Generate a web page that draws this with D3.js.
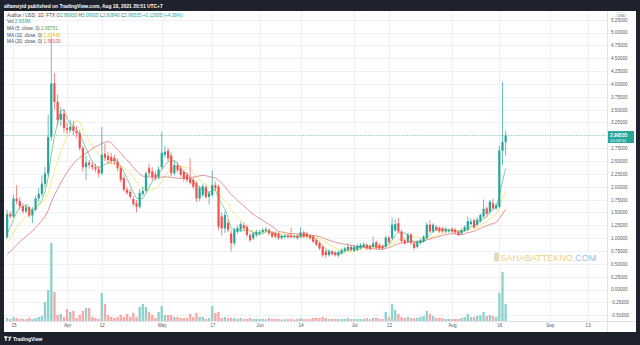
<!DOCTYPE html>
<html>
<head>
<meta charset="utf-8">
<script src="https://cdn.jsdelivr.net/npm/d3@7"></script>
<style>
  html, body { margin: 0; padding: 0; background: #1e222d; }
  svg { display: block; }
  text { font-family: "Liberation Sans", Arial, sans-serif; }
</style>
</head>
<body>
<svg id="chart" width="640" height="345"></svg>
<script>
// AUDIO / USD daily candles on FTX, 13 Mar 2021 – 18 Aug 2021
const startDate = "2021-03-13";

const opens = [
  1.02, 1.47, 1.42, 1.77, 1.72, 1.62, 1.52, 1.60, 1.44, 1.55,
  1.77, 1.86, 2.06, 2.26, 2.97, 4.01, 3.65, 3.30, 3.42, 3.14,
  3.10, 3.17, 3.08, 3.04, 2.75, 2.38, 2.47, 2.42, 2.38, 2.34,
  2.26, 2.64, 2.60, 2.58, 2.56, 2.49, 2.36, 2.17, 1.94, 1.90,
  1.76, 1.68, 1.61, 1.86, 1.92, 2.36, 2.30, 2.24, 2.19, 2.38,
  2.62, 2.70, 2.61, 2.26, 2.42, 2.36, 2.29, 2.23, 2.16, 2.13,
  2.07, 1.77, 1.84, 1.99, 1.80, 1.84, 2.03, 2.00, 1.42, 1.19,
  1.30, 1.09, 0.90, 1.12, 1.16, 1.25, 1.22, 1.06, 1.00, 1.06,
  1.09, 1.12, 1.14, 1.16, 1.11, 1.10, 1.09, 1.00, 1.02, 1.05,
  1.05, 1.02, 1.05, 1.02, 1.11, 1.09, 1.05, 1.03, 0.96, 0.90,
  0.83, 0.74, 0.67, 0.74, 0.72, 0.66, 0.70, 0.75, 0.77, 0.83,
  0.75, 0.77, 0.80, 0.83, 0.87, 0.85, 0.83, 0.92, 0.87, 0.85,
  0.83, 1.01, 1.00, 1.15, 1.29, 1.13, 0.96, 0.93, 1.07, 0.90,
  0.83, 0.90, 0.93, 1.00, 1.26, 1.13, 1.22, 1.20, 1.19, 1.13,
  1.13, 1.18, 1.16, 1.12, 1.09, 1.14, 1.16, 1.27, 1.35, 1.26,
  1.33, 1.42, 1.58, 1.51, 1.68, 1.58, 1.61, 2.70, 2.86930
];

const highs = [
  1.55, 1.52, 1.84, 2.03, 1.80, 1.68, 1.66, 1.63, 1.60, 1.82,
  1.98, 2.22, 2.39, 3.40, 4.90, 4.21, 3.80, 3.55, 3.50, 3.25,
  3.30, 3.28, 3.18, 3.10, 2.80, 2.60, 2.52, 2.48, 2.45, 2.40,
  3.16, 2.84, 2.68, 2.66, 2.62, 2.55, 2.40, 2.22, 2.00, 1.95,
  1.82, 1.74, 1.95, 2.00, 2.30, 2.45, 2.38, 2.30, 2.40, 3.07,
  2.80, 2.76, 2.66, 2.50, 2.48, 2.42, 2.34, 2.28, 2.55, 2.18,
  2.10, 2.02, 2.06, 2.04, 1.92, 2.32, 2.10, 2.04, 1.50, 1.52,
  1.36, 1.15, 1.20, 1.24, 1.32, 1.30, 1.26, 1.10, 1.12, 1.16,
  1.16, 1.20, 1.22, 1.19, 1.14, 1.13, 1.12, 1.07, 1.08, 1.08,
  1.21, 1.07, 1.08, 1.21, 1.14, 1.12, 1.08, 1.06, 0.99, 0.93,
  0.86, 0.77, 0.78, 0.77, 0.75, 0.76, 0.80, 0.83, 0.90, 0.86,
  0.86, 0.88, 0.90, 0.92, 0.90, 0.88, 1.03, 0.95, 0.90, 0.88,
  1.05, 1.04, 1.40, 1.37, 1.39, 1.16, 0.99, 1.10, 1.10, 0.93,
  0.96, 0.99, 1.06, 1.30, 1.35, 1.29, 1.25, 1.23, 1.22, 1.21,
  1.19, 1.21, 1.19, 1.15, 1.19, 1.25, 1.42, 1.38, 1.38, 1.41,
  1.48, 1.75, 1.62, 1.74, 1.77, 1.68, 2.80, 4.04, 3.09905
];

const lows = [
  0.98, 1.38, 1.40, 1.66, 1.56, 1.47, 1.48, 1.40, 1.29, 1.52,
  1.70, 1.80, 2.00, 2.20, 2.90, 3.50, 3.20, 3.18, 3.05, 3.02,
  3.05, 3.00, 2.95, 2.70, 2.30, 2.13, 2.35, 2.32, 2.28, 2.18,
  2.22, 2.50, 2.45, 2.44, 2.42, 2.30, 2.08, 1.90, 1.84, 1.76,
  1.62, 1.50, 1.58, 1.82, 1.90, 2.20, 2.12, 2.12, 2.15, 2.34,
  2.56, 2.50, 2.20, 2.22, 2.28, 2.18, 2.10, 2.08, 2.04, 1.95,
  1.70, 1.72, 1.80, 1.76, 1.65, 1.80, 1.92, 1.15, 1.05, 1.10,
  1.12, 0.74, 0.86, 1.08, 1.12, 1.15, 1.02, 0.92, 0.96, 1.02,
  1.05, 1.08, 1.10, 1.05, 1.00, 1.00, 0.97, 0.97, 0.99, 0.99,
  1.00, 0.99, 0.97, 1.00, 1.00, 1.00, 0.97, 0.90, 0.84, 0.77,
  0.63, 0.61, 0.64, 0.66, 0.64, 0.63, 0.68, 0.72, 0.75, 0.74,
  0.73, 0.75, 0.78, 0.81, 0.77, 0.76, 0.80, 0.78, 0.77, 0.77,
  0.81, 0.89, 0.97, 1.12, 1.10, 0.91, 0.87, 0.90, 0.87, 0.77,
  0.80, 0.88, 0.91, 0.98, 1.10, 1.10, 1.13, 1.10, 1.10, 1.10,
  1.10, 1.10, 1.08, 1.04, 1.06, 1.12, 1.14, 1.25, 1.19, 1.23,
  1.30, 1.40, 1.44, 1.48, 1.55, 1.55, 1.58, 2.42, 2.60840
];

const closes = [
  1.47, 1.42, 1.77, 1.72, 1.62, 1.52, 1.60, 1.44, 1.55, 1.77,
  1.86, 2.06, 2.26, 2.97, 4.01, 3.65, 3.30, 3.42, 3.14, 3.10,
  3.17, 3.08, 3.04, 2.75, 2.38, 2.47, 2.42, 2.38, 2.34, 2.26,
  2.62, 2.56, 2.52, 2.50, 2.49, 2.36, 2.13, 1.94, 1.88, 1.80,
  1.66, 1.61, 1.88, 1.92, 2.26, 2.26, 2.19, 2.19, 2.34, 2.66,
  2.68, 2.55, 2.26, 2.42, 2.32, 2.23, 2.16, 2.13, 2.07, 2.00,
  1.77, 1.97, 2.01, 1.80, 1.87, 2.03, 1.97, 1.22, 1.19, 1.45,
  1.16, 0.90, 1.16, 1.19, 1.27, 1.19, 1.06, 0.96, 1.09, 1.12,
  1.12, 1.16, 1.17, 1.09, 1.03, 1.03, 1.00, 1.04, 1.05, 1.02,
  1.02, 1.04, 1.00, 1.11, 1.03, 1.03, 1.00, 0.93, 0.87, 0.80,
  0.67, 0.67, 0.74, 0.69, 0.67, 0.73, 0.77, 0.80, 0.83, 0.77,
  0.83, 0.85, 0.87, 0.88, 0.80, 0.79, 0.90, 0.81, 0.80, 0.80,
  1.01, 0.92, 1.26, 1.27, 1.13, 0.94, 0.90, 1.07, 0.90, 0.81,
  0.93, 0.96, 1.03, 1.26, 1.13, 1.26, 1.16, 1.13, 1.13, 1.18,
  1.16, 1.13, 1.11, 1.06, 1.16, 1.22, 1.33, 1.32, 1.2072, 1.36,
  1.44805, 1.57, 1.47, 1.71, 1.58, 1.64, 2.7019, 2.86930, 2.99535
];

// Daily volume, millions
const volumes = [
  0.52, 0.35, 0.69, 0.52, 0.35, 0.38, 0.33, 0.55, 0.36, 0.52,
  0.71, 0.86, 3.28, 5.35, 13.46, 5.00, 1.04, 1.21, 0.69, 2.07,
  1.55, 1.73, 0.52, 1.04, 1.73, 2.24, 2.24, 0.69, 0.52, 0.35,
  4.83, 2.93, 1.04, 0.69, 0.52, 0.69, 1.04, 0.69, 1.21, 0.69,
  1.38, 0.69, 2.42, 2.93, 2.42, 1.55, 1.04, 0.52, 1.55, 2.59,
  1.04, 1.04, 1.04, 0.69, 0.69, 0.52, 0.52, 0.52, 1.21, 0.69,
  1.38, 0.69, 0.69, 0.35, 0.52, 2.59, 1.38, 1.55, 0.52, 0.69,
  0.52, 0.55, 0.50, 0.35, 0.52, 0.36, 0.34, 0.52, 0.35, 0.37,
  0.35, 0.38, 0.33, 0.52, 0.35, 0.34, 0.36, 0.26, 0.27, 0.35,
  0.36, 0.26, 0.35, 0.52, 0.35, 0.33, 0.36, 0.52, 0.55, 0.50,
  0.69, 0.52, 0.35, 0.36, 0.34, 0.35, 0.37, 0.35, 0.52, 0.35,
  0.34, 0.36, 0.35, 0.38, 0.52, 0.35, 0.52, 0.55, 0.35, 0.36,
  1.55, 0.69, 2.93, 1.90, 1.21, 0.69, 0.52, 0.69, 0.52, 0.50,
  0.52, 0.69, 0.86, 1.73, 1.21, 0.86, 0.52, 0.55, 0.50, 0.35,
  0.36, 0.34, 0.35, 0.37, 0.52, 0.69, 1.21, 0.69, 0.69, 0.86,
  1.04, 1.55, 0.86, 1.04, 0.86, 0.69, 4.83, 8.45, 2.933
];

// Closes of the 19 sessions before the first drawn candle, used to warm up the moving averages
const priorCloses = [
  0.40, 0.42, 0.44, 0.43, 0.45, 0.47, 0.46, 0.48, 0.50, 0.52,
  0.58, 0.65, 0.72, 0.80, 0.85, 0.90, 0.98, 1.05, 1.10
];

const priceTicks = [-0.5, -0.25, 0, 0.25, 0.5, 0.75, 1, 1.25, 1.5, 1.75, 2, 2.25,
  2.5, 2.75, 3, 3.25, 3.5, 3.75, 4, 4.25, 4.5, 4.75, 5, 5.25];
const timeTickDates = ["2021-03-15", "2021-04-01", "2021-04-12", "2021-05-01", "2021-05-17",
  "2021-06-01", "2021-06-14", "2021-07-01", "2021-07-12", "2021-08-01", "2021-08-16",
  "2021-09-01", "2021-09-13"];
const timeTickLabels = ["15", "Apr", "12", "May", "17", "Jun", "14", "Jul", "12", "Aug", "16", "Sep", "13"];

const maPeriods = [5, 10, 20];
const maColors = ["#5fb868", "#f5e15a", "#e06a6a"];
const maTextColors = ["#43a047", "#e0c400", "#ef5350"];

const UP = "#26a69a", DOWN = "#ef5350";
const UP_VOL = "#92d2cc", DOWN_VOL = "#f7a9a7";

// ---------------------------------------------------------------------------
const parse = d3.utcParse("%Y-%m-%d");
const t0 = parse(startDate);
const bars = closes.map((c, i) => ({
  date: d3.utcDay.offset(t0, i),
  o: opens[i], h: highs[i], l: lows[i], c: c, v: volumes[i]
}));

// simple moving averages on close
const allCloses = priorCloses.concat(closes);
const offset = priorCloses.length;
const maSeries = maPeriods.map(p => bars.map((b, i) => {
  const end = i + offset;
  const win = allCloses.slice(end - p + 1, end + 1);
  return { date: b.date, value: d3.mean(win) };
}));

const W = 640, H = 345;
const pane = { left: 4, right: 607, top: 11, bottom: 321 };
const frame = { left: 4, right: 636, top: 11, bottom: 332 };

const svg = d3.select("#chart");
svg.append("rect").attr("width", W).attr("height", H).attr("fill", "#1e222d");
svg.append("rect")
  .attr("x", frame.left).attr("y", frame.top)
  .attr("width", frame.right - frame.left).attr("height", frame.bottom - frame.top)
  .attr("fill", "#ffffff");

const x = d3.scaleUtc()
  .domain([parse("2021-03-12"), new Date(Date.UTC(2021, 8, 19, 3))])
  .range([pane.left, pane.right]);
const y = d3.scaleLinear().domain([0, 5]).range([289.5, 32.5]);
const yv = d3.scaleLinear().domain([0, 13.5]).range([pane.bottom, 242.8]);

// grid
const grid = svg.append("g").attr("stroke", "#eff1f6").attr("stroke-width", 1);
grid.selectAll("line.h").data(priceTicks).join("line").attr("class", "h")
  .attr("x1", pane.left).attr("x2", pane.right)
  .attr("y1", d => Math.round(y(d)) + 0.5).attr("y2", d => Math.round(y(d)) + 0.5);
grid.selectAll("line.v").data(timeTickDates.map(parse)).join("line").attr("class", "v")
  .attr("y1", pane.top).attr("y2", pane.bottom)
  .attr("x1", d => Math.round(x(d)) + 0.5).attr("x2", d => Math.round(x(d)) + 0.5);

// separators of the scales
svg.append("line").attr("x1", pane.right + 0.5).attr("x2", pane.right + 0.5)
  .attr("y1", frame.top).attr("y2", frame.bottom).attr("stroke", "#e0e3eb");
svg.append("line").attr("x1", frame.left).attr("x2", frame.right)
  .attr("y1", pane.bottom + 0.5).attr("y2", pane.bottom + 0.5).attr("stroke", "#e0e3eb");

svg.append("clipPath").attr("id", "paneClip").append("rect")
  .attr("x", pane.left).attr("y", pane.top)
  .attr("width", pane.right - pane.left).attr("height", pane.bottom - pane.top);
const plot = svg.append("g").attr("clip-path", "url(#paneClip)");

// watermark
const wm = plot.append("g").attr("opacity", 0.72);
wm.append("rect").attr("x", 494.5).attr("y", 253).attr("width", 4).attr("height", 8).attr("rx", 0.8)
  .attr("fill", "#e9cf7a").attr("stroke", "#b5b5b5").attr("stroke-width", 0.6);
const wmText = wm.append("text").attr("x", 500.5).attr("y", 261.3)
  .attr("font-size", 9).attr("font-family", "Open Sans, sans-serif").attr("font-weight", 400);
wmText.append("tspan").attr("fill", "#e3c14f").text("SAHABATTEKNO");
wmText.append("tspan").attr("fill", "#7fa6e6").text(".COM");
wm.append("path").attr("d", "M592.5,260 l3.2,-3.2 l1,1 l-3.2,3.2 z").attr("fill", "#b4c2d6");

// volume
const bw = 2.2;
plot.append("g").selectAll("rect").data(bars).join("rect")
  .attr("x", d => x(d.date) - bw / 2 - 0.1)
  .attr("width", bw + 0.2)
  .attr("y", d => yv(d.v))
  .attr("height", d => pane.bottom - yv(d.v))
  .attr("fill", d => d.c >= d.o ? UP_VOL : DOWN_VOL);

// moving averages
const line = d3.line().x(d => x(d.date)).y(d => y(d.value));
plot.append("g").selectAll("path").data(maSeries).join("path")
  .attr("d", line).attr("fill", "none")
  .attr("stroke", (d, i) => maColors[i]).attr("stroke-width", 0.8).attr("stroke-opacity", 0.9);

// candles
const candles = plot.append("g").selectAll("g").data(bars).join("g")
  .attr("fill", d => d.c >= d.o ? UP : DOWN)
  .attr("stroke", d => d.c >= d.o ? UP : DOWN);
candles.append("line")
  .attr("x1", d => x(d.date)).attr("x2", d => x(d.date))
  .attr("y1", d => y(d.h)).attr("y2", d => y(d.l))
  .attr("stroke-width", 0.7);
candles.append("rect")
  .attr("x", d => x(d.date) - bw / 2)
  .attr("width", bw)
  .attr("y", d => y(Math.max(d.o, d.c)))
  .attr("height", d => Math.max(0.8, Math.abs(y(d.o) - y(d.c))))
  .attr("stroke", "none");

// last price line
const last = bars[bars.length - 1];
const prev = bars[bars.length - 2];
plot.append("line").attr("x1", pane.left).attr("x2", pane.right)
  .attr("y1", y(last.c)).attr("y2", y(last.c))
  .attr("stroke", UP).attr("stroke-width", 0.7).attr("stroke-dasharray", "1,1.6").attr("opacity", 0.7);

// price scale
const yAxis = svg.append("g").attr("transform", `translate(${pane.right + 3},0)`)
  .call(d3.axisRight(y).tickValues(priceTicks).tickSize(0).tickPadding(1)
    .tickFormat(d => d3.format(".5f")(d).replace("\u2212", "-")));
yAxis.select(".domain").remove();
yAxis.selectAll("text").attr("font-size", 4.6).attr("fill", "#555a66")
  .attr("font-family", "Liberation Sans, Arial, sans-serif");

// currency badge
svg.append("rect").attr("x", 616).attr("y", 12.5).attr("width", 11).attr("height", 5.5).attr("rx", 1)
  .attr("fill", "#fff").attr("stroke", "#d1d4dc").attr("stroke-width", 0.5);
svg.append("text").attr("x", 621.5).attr("y", 16.6).attr("text-anchor", "middle")
  .attr("font-size", 3.8).attr("fill", "#555a66").text("USD");

// last price tag
const tagY = y(last.c);
svg.append("rect").attr("x", 608).attr("y", tagY - 4.5).attr("width", 26).attr("height", 12)
  .attr("fill", UP);
svg.append("text").attr("x", 610).attr("y", tagY + 1.6).attr("font-size", 4.8).attr("font-weight", "bold")
  .attr("fill", "#fff").text(last.c.toFixed(5));
svg.append("text").attr("x", 610).attr("y", tagY + 6.3).attr("font-size", 4.2)
  .attr("fill", "#fff").text("10:08:51");

// time scale
const xAxis = svg.append("g").attr("transform", `translate(0,${pane.bottom})`)
  .call(d3.axisBottom(x).tickValues(timeTickDates.map(parse)).tickSize(0).tickPadding(3)
    .tickFormat((d, i) => timeTickLabels[i]));
xAxis.select(".domain").remove();
xAxis.selectAll("text").attr("font-size", 4.6).attr("fill", "#555a66")
  .attr("font-family", "Liberation Sans, Arial, sans-serif");

// publication header
svg.append("text").attr("x", 4).attr("y", 7.8).attr("font-size", 4.9).attr("font-weight", "bold")
  .attr("fill", "#ffffff").text("alfamzyid published on TradingView.com, Aug 18, 2021 20:51 UTC+7");

// legend
const fmt = d3.format(".5f");
const chg = last.c - prev.c;
const legend = svg.append("g").attr("font-size", 4.7);
const l1 = legend.append("text").attr("x", 7).attr("y", 16.8).attr("fill", "#434651");
l1.append("tspan").text("Audius / USD, 1D, FTX  O");
l1.append("tspan").attr("fill", UP).text(fmt(last.o));
l1.append("tspan").text(" H");
l1.append("tspan").attr("fill", UP).text(fmt(last.h));
l1.append("tspan").text(" L");
l1.append("tspan").attr("fill", UP).text(fmt(last.l));
l1.append("tspan").text(" C");
l1.append("tspan").attr("fill", UP).text(fmt(last.c));
l1.append("tspan").attr("fill", UP)
  .text(` ${chg >= 0 ? "+" : ""}${fmt(chg)} (${chg >= 0 ? "+" : ""}${(chg / prev.c * 100).toFixed(2)}%)`);

const l2 = legend.append("text").attr("x", 7).attr("y", 23.4).attr("fill", "#434651");
l2.append("tspan").text("Vol ");
l2.append("tspan").attr("fill", UP).text(d3.format(".3f")(last.v) + "M");

maPeriods.forEach((p, k) => {
  const t = legend.append("text").attr("x", 7).attr("y", 30 + k * 6.6).attr("fill", "#434651");
  t.append("tspan").text(`MA (${p}, close, 0) `);
  t.append("tspan").attr("fill", maTextColors[k]).text(fmt(maSeries[k][maSeries[k].length - 1].value));
});

// brand footer
const brand = svg.append("g");
brand.append("rect").attr("x", 4).attr("y", 336.4).attr("width", 3.6).attr("height", 1.3).attr("fill", "#fff");
brand.append("rect").attr("x", 5.2).attr("y", 336.4).attr("width", 1.3).attr("height", 4.4).attr("fill", "#fff");
brand.append("circle").attr("cx", 8.9).attr("cy", 337.2).attr("r", 0.8).attr("fill", "#fff");
brand.append("path").attr("d", "M8.2,340.8 L10.2,336.4 L11.6,336.4 L9.6,340.8 Z").attr("fill", "#fff");
brand.append("text").attr("x", 13).attr("y", 340.6).attr("font-size", 5).attr("font-weight", "bold")
  .attr("fill", "#ffffff").text("TradingView");
</script>
</body>
</html>
